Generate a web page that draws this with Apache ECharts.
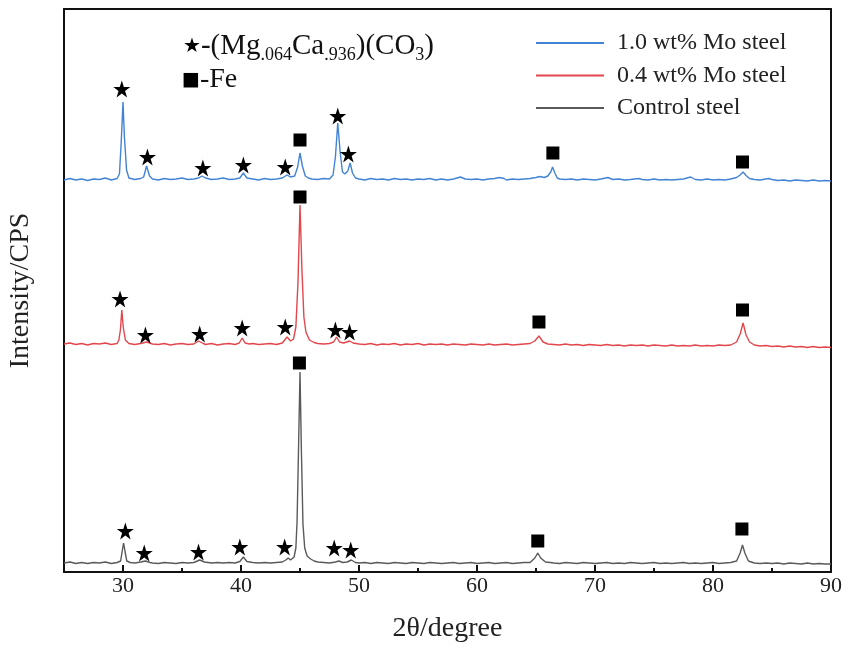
<!DOCTYPE html>
<html><head><meta charset="utf-8">
<script src="https://cdn.jsdelivr.net/npm/echarts@6/dist/echarts.min.js"></script>
<style>html,body{margin:0;padding:0;background:#fff}#c{width:851px;height:648px}</style>
</head><body><div id="c"></div>
<script>
// ---- data (2θ in degree, intensity in arbitrary CPS units, curves offset as in the figure) ----
const seriesNames = ['1.0 wt% Mo steel', '0.4 wt% Mo steel', 'Control steel'];
const majorTicks = [30, 40, 50, 60, 70, 80, 90];
const minorTicks = [35, 45, 55, 65, 75, 85];

const mo10 = [[25,392],[25.5,393.5],[26,392],[26.5,393],[27,391.5],[27.5,393],[28,392.5],[28.5,394],[29,392],[29.5,393.5],
[29.7,398],[29.85,430],[30.0,470],[30.12,435],[30.3,402],[30.5,394],[31,392.5],[31.5,393.5],[31.75,395],[32.0,406],[32.25,396],
[32.5,393],[33,392],[33.5,393.5],[34,392.5],[34.5,393],[35,394],[35.5,392.5],[36,393],[36.4,394],[36.7,396],[37,394],[37.5,392.5],
[38,393],[38.5,394],[39,392.5],[39.5,393],[39.9,394],[40.2,399],[40.5,394],[41,393],[41.5,392],[42,393.5],[42.5,392.5],[43,393],
[43.5,394],[43.9,397],[44.2,395],[44.55,396],[44.8,405],[45.0,419],[45.2,406],[45.45,396],[45.7,394],[46,393],[46.5,392.5],
[47,393.5],[47.5,393],[47.8,397],[48.0,415],[48.2,449],[48.4,420],[48.6,400],[48.8,398],[49.05,401],[49.25,409],[49.45,399],
[49.7,394],[50,393],[50.5,392],[51,393.5],[51.5,392.5],[52,393],[52.5,392],[53,393.5],[53.5,392.5],[54,393],[54.5,392],[55,393],
[55.5,392.5],[56,393.5],[56.5,392],[57,393],[57.5,392],[58,393],[58.6,395],[59,393],[59.5,392.5],[60,393],[60.5,392],[61,393],
[61.5,393.5],[61.9,394.5],[62.3,393.5],[62.5,392],[63,393],[63.5,392.5],[64,393],[64.5,393.5],[65,394.5],[65.3,395.5],[65.7,394.5],
[66.0,396],[66.25,400],[66.4,405],[66.6,399],[66.8,394],[67,393],[67.5,392.5],[68,393],[68.5,392],[69,393],[69.5,392.5],[70,392],
[70.5,393],[71.1,394.5],[71.5,392.5],[72,393],[72.5,392],[73,392.5],[73.7,393.5],[74,392.5],[74.5,392],[75,393],[75.5,392],[76,392.5],
[76.5,392],[77,392.5],[77.5,393],[78.1,395],[78.5,392.5],[79,392],[79.5,393],[80,392],[80.5,392.5],[81,392],[81.5,393],[82,394.5],
[82.3,397],[82.55,400],[82.8,396.5],[83.1,393.5],[83.5,392.5],[84,392],[84.7,393.5],[85,392.5],[85.5,391.5],[86,392],[86.5,391],
[87,392],[87.5,391.5],[88,391],[88.5,392],[89,391],[89.5,391.5],[90,391]];

const mo04 = [[25,228],[25.5,229],[26,227.5],[26.5,228.5],[27,227],[27.5,228.5],[28,228],[28.5,229],[29,227.5],[29.5,228.5],
[29.65,232],[29.78,242],[29.9,262],[30.02,245],[30.2,232],[30.5,228.5],[31,227.5],[31.5,228.5],[32.0,230],[32.5,228],[33,227.5],
[33.5,228.5],[34,227],[34.5,228],[35,228.5],[35.5,227.5],[36,228],[36.4,231],[36.8,228.5],[37,227.5],[37.5,228.5],[38,227],
[38.5,228],[39,228.5],[39.5,227.5],[39.85,229],[40.1,234],[40.35,229],[40.7,228],[41,228.5],[41.5,227.5],[42,228],[42.5,228.5],
[43,227.5],[43.5,229],[43.9,235],[44.2,231],[44.45,233],[44.65,245],[44.83,290],[45.0,367],[45.17,300],[45.33,255],[45.5,240],
[45.8,232],[46.2,229.5],[46.5,228.5],[47,228],[47.5,228.5],[47.85,230],[48.1,235],[48.35,230],[48.7,229],[49.2,231],[49.5,229],
[50,228],[50.5,227.5],[51,228.5],[51.5,227],[52,228],[52.5,227.5],[53,228.5],[53.5,227],[54,228],[54.5,227.5],[55,228.5],
[55.5,227],[56,228],[56.5,227.5],[57,228],[57.5,227],[58,228],[58.5,227.5],[59,227],[59.5,228],[60,227.5],[60.5,227],[61,228],
[61.5,227],[62,227.5],[62.5,228],[63,227],[63.5,227.5],[64,228],[64.5,228.5],[64.9,231],[65.25,236],[65.6,230],[66,228],
[66.5,227.5],[67,227],[67.5,228],[68,227],[68.5,227.5],[69,226.5],[69.5,227.5],[70,227],[70.5,226.5],[71,227.5],[71.5,226.5],
[72,227],[72.5,226],[73,227],[73.5,226.5],[74,227],[74.5,226],[75,227],[75.5,226.5],[76,226],[76.5,227],[77,226],[77.5,226.5],
[78,226],[78.5,227],[79,226],[79.5,226.5],[80,226],[80.5,227],[81,226.5],[81.5,227],[82,230],[82.3,238],[82.55,249],[82.8,237],
[83.1,230],[83.5,227],[84,226],[84.5,226.5],[85,225.5],[85.5,226],[86,225],[86.5,226],[87,225],[87.5,225.5],[88,224.5],
[88.5,225.5],[89,224.5],[89.5,225],[90,224.5]];

const control = [[25,9],[25.5,10],[26,8.5],[26.5,9.5],[27,8.5],[27.5,9.5],[28,9],[28.5,10],[29,8.5],[29.5,9.5],[29.8,11],
[29.92,20],[30.05,29],[30.18,20],[30.32,11],[30.6,9.5],[31,9],[31.5,10],[31.9,11],[32.3,9.5],[32.5,9],[33,8.5],[33.5,9.5],[34,9],
[34.5,8.5],[35,9.5],[35.5,9],[36,9.5],[36.5,12],[36.9,10],[37.5,9],[38,9.5],[38.5,9],[39,9.5],[39.5,9],[39.9,10.5],[40.2,15],
[40.5,10.5],[41,9.5],[41.5,9],[42,9.5],[42.5,9],[43,9.5],[43.5,10],[43.8,12],[44.0,14],[44.2,12],[44.5,15],[44.65,24],[44.75,50],
[44.87,120],[45.0,200],[45.12,120],[45.25,48],[45.4,24],[45.6,16],[45.9,13],[46.2,11],[46.5,10],[47,9.5],[47.5,9],[48,10],
[48.3,11],[48.6,9.5],[49,10],[49.35,12],[49.7,9.5],[50,9],[50.5,9.5],[51,8.5],[51.5,9.5],[52,9],[52.5,8.5],[53,9.5],[53.5,9],
[54,8.5],[54.5,9.5],[55,9],[55.5,8.5],[56,9.5],[56.5,9],[57,8.5],[57.5,9],[58,9.5],[58.5,8.5],[59,9],[59.5,9.5],[60,8.5],[60.5,9],
[61,9.5],[61.5,8.5],[62,9],[62.5,9.5],[63,8.5],[63.5,9],[64,9.5],[64.5,9.5],[64.9,14],[65.15,19],[65.4,14],[65.8,10],[66.2,9.5],
[66.5,9],[67,8.5],[67.5,9.5],[68,9],[68.5,8.5],[69,9.5],[69.5,9],[70,8.5],[70.5,9],[71,9.5],[71.5,8.5],[72,9],[72.5,8.5],[73,9.5],
[73.5,9],[74,8.5],[74.5,9],[75,9.5],[75.5,8.5],[76,9],[76.5,8.5],[77,9],[77.5,9.5],[78,8.5],[78.5,9],[79,8.5],[79.5,9],[80,9.5],
[80.5,8.5],[81,9],[81.5,9.5],[82.0,11],[82.3,19],[82.5,27],[82.7,19],[83.0,11],[83.5,9],[84,8.5],[84.5,9],[85,8.5],[85.5,9],
[86,8],[86.5,9],[87,8.5],[87.5,8],[88,9],[88.5,8],[89,8.5],[89.5,8],[90,8]];

// phase markers: ★ = (Mg.064Ca.936)(CO3), ■ = Fe
const starMarks = [[29.9,483],[32.07,415],[36.77,404],[40.2,407],[43.75,405],[48.2,456],[49.1,418],
[29.75,273],[31.9,237],[36.5,238],[40.1,244],[43.75,245],[48.0,242],[49.2,240],
[30.2,41],[31.8,19],[36.4,20],[39.9,25],[43.7,25],[47.9,24],[49.3,22]];
const feMarks = [[45.0,432],[66.43,419],[82.5,410],
[45.0,375],[65.25,250],[82.5,262],
[44.95,209],[65.15,31],[82.45,43]];

const colors = ['#4283d4', '#e2474d', '#5a5a5a'];
const FONT = '"Liberation Serif", "Times New Roman", serif';
const STAR = 'path://M50,2 L61.2,36.2 L97,36.2 L68,57.4 L79,91.6 L50,70.4 L21,91.6 L32,57.4 L3,36.2 L38.8,36.2 Z';

const chart = echarts.init(document.getElementById('c'), null, {renderer: 'canvas'});
const axisLine = {show: true, lineStyle: {color: '#111', width: 2}};
chart.setOption({
  backgroundColor: '#fff',
  animation: false,
  grid: {left: 64, right: 20, top: 9, bottom: 76, containLabel: false, outerBoundsMode: 'none'},
  legend: {
    data: seriesNames, orient: 'vertical', left: 531, top: 26,
    itemWidth: 68, itemHeight: 2, icon: 'rect', itemGap: 8.5,
    textStyle: {fontFamily: FONT, fontSize: 24, color: '#222', lineHeight: 24, padding: [0, 0, 0, 8]}
  },
  xAxis: [
    {type: 'value', min: 25, max: 90, position: 'bottom',
     axisLine: axisLine, splitLine: {show: false},
     axisTick: {show: true, inside: true, length: 7, customValues: majorTicks, lineStyle: {color: '#111', width: 2}},
     axisLabel: {customValues: majorTicks, fontFamily: FONT, fontSize: 22, color: '#222', margin: 3},
     name: '2θ/degree', nameLocation: 'middle', nameGap: 43,
     nameTextStyle: {fontFamily: FONT, fontSize: 28, color: '#222'}},
    {type: 'value', min: 25, max: 90, position: 'bottom',
     axisLine: {show: false}, splitLine: {show: false},
     axisTick: {show: true, inside: true, length: 4, customValues: minorTicks, lineStyle: {color: '#111', width: 2}},
     axisLabel: {show: false}},
    {type: 'value', min: 25, max: 90, position: 'top',
     axisLine: axisLine, axisTick: {show: false}, axisLabel: {show: false}, splitLine: {show: false}}
  ],
  yAxis: [
    {type: 'value', min: 0, max: 563, position: 'left',
     axisLine: axisLine, axisTick: {show: false}, axisLabel: {show: false}, splitLine: {show: false},
     name: 'Intensity/CPS', nameLocation: 'middle', nameGap: 29, nameRotate: 90,
     nameTextStyle: {fontFamily: FONT, fontSize: 28, color: '#222'}},
    {type: 'value', min: 0, max: 563, position: 'right',
     axisLine: axisLine, axisTick: {show: false}, axisLabel: {show: false}, splitLine: {show: false}}
  ],
  series: [
    {name: seriesNames[0], type: 'line', data: mo10, showSymbol: false, symbol: 'none', color: colors[0],
     lineStyle: {width: 1.4, color: colors[0]}},
    {name: seriesNames[1], type: 'line', data: mo04, showSymbol: false, symbol: 'none', color: colors[1],
     lineStyle: {width: 1.4, color: colors[1]}},
    {name: seriesNames[2], type: 'line', data: control, showSymbol: false, symbol: 'none', color: colors[2],
     lineStyle: {width: 1.4, color: colors[2]}},
    {name: 'star', type: 'scatter', data: starMarks, symbol: STAR, symbolSize: 17,
     itemStyle: {color: '#000', opacity: 1}, z: 5, silent: true},
    {name: 'fe', type: 'scatter', data: feMarks, symbol: 'rect', symbolSize: 13,
     itemStyle: {color: '#000', opacity: 1}, z: 5, silent: true}
  ],
  graphic: [
    {type: 'text', left: 183, top: 32, silent: true,
     style: {text: '{st|★}{m|-(Mg}{s|.064}{m|Ca}{s|.936}{m|)(CO}{s|3}{m|)}',
       rich: {
         st: {fontFamily: 'DejaVu Sans', fontSize: 20, lineHeight: 36, fill: '#000'},
         m: {fontFamily: FONT, fontSize: 29, lineHeight: 36, fill: '#111'},
         s: {fontFamily: FONT, fontSize: 18, lineHeight: 18, verticalAlign: 'bottom', fill: '#111'}
       }}},
    {type: 'text', left: 182, top: 66, silent: true,
     style: {text: '{st|■}{m|-Fe}',
       rich: {
         st: {fontFamily: 'DejaVu Sans', fontSize: 19, lineHeight: 32, fill: '#000'},
         m: {fontFamily: FONT, fontSize: 28, lineHeight: 32, fill: '#111'}
       }}}
  ]
});
</script></body></html>
